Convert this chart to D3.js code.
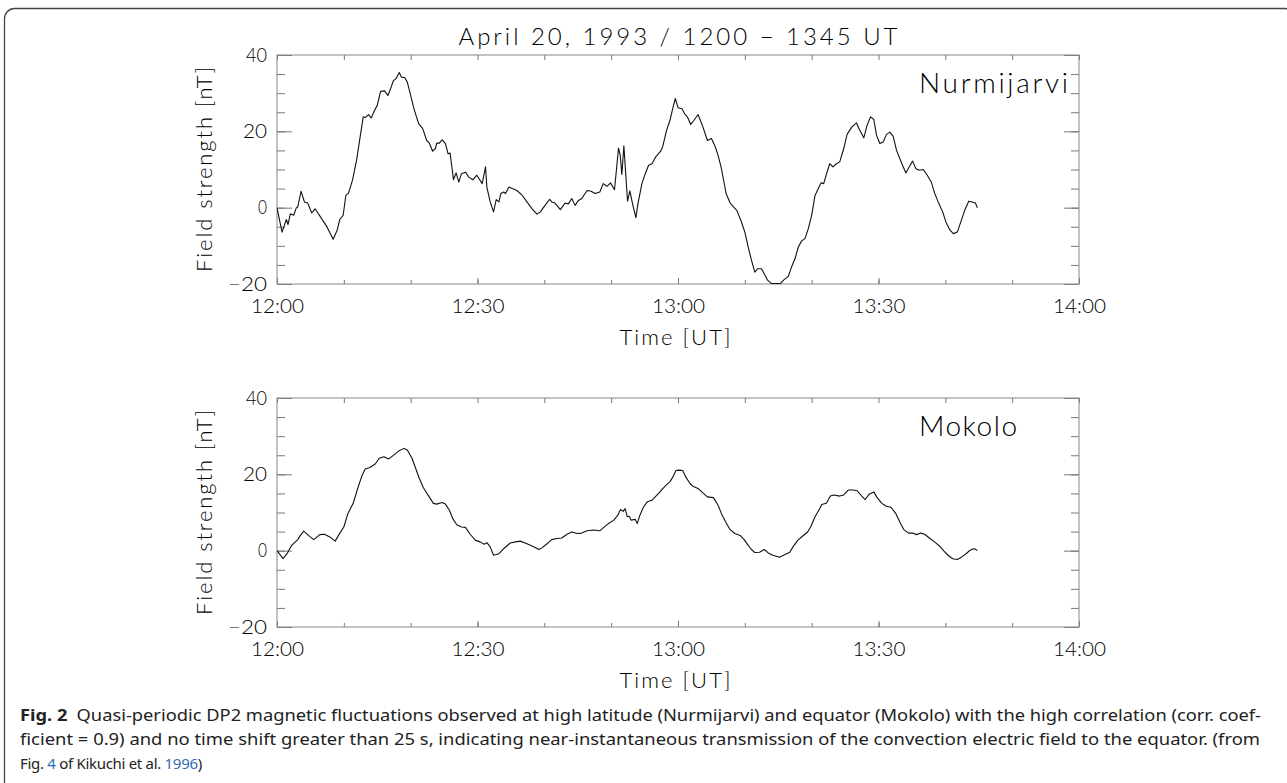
<!DOCTYPE html>
<html>
<head>
<meta charset="utf-8">
<script src="https://cdn.jsdelivr.net/npm/d3@7"></script>
<style>
  body { margin: 0; background: #fff; }
  .plotfont text { font-family: "Lato", "DejaVu Sans", sans-serif; font-weight: 300; fill: #000; }
  .caption { font-family: "Noto Sans", "Open Sans", sans-serif; font-size: 16px; fill: #222; }
</style>
</head>
<body>
<div id="container"></div>
<script>
/* global d3 */

const width = 1287;
const height = 783;

// minutes after 12:00 UT, field strength [nT]
const nurmijarvi = [
  [0,0],[0.75,-6.4],[1.4,-3.1],[1.65,-4.4],[2,-1.6],[2.5,-2],[2.9,0],[3.1,0.2],[3.6,4.3],[4.1,1.5],
  [4.6,1.2],[5.2,-1.4],[5.7,-0.3],[6.5,-2.4],[7.5,-5.1],[8.4,-8.3],[9,-5.9],[9.4,-3.1],[9.9,-2],[10.3,3.2],
  [10.7,3.8],[11.3,7.2],[11.9,12.4],[12.4,18.1],[12.9,23.8],[13.2,23.6],[13.7,24.4],[14.1,23.5],[14.6,25.5],[15,26.8],
  [15.5,30.5],[16.1,30.6],[16.6,29.4],[17,31.2],[17.4,33.2],[17.8,33.8],[18.3,35.4],[18.6,34.2],[19.1,34.1],[19.5,32.9],
  [20,29.4],[20.5,25.9],[20.8,24.2],[21.2,22],[21.8,20.7],[22.4,17.6],[22.8,16.9],[23.3,14.8],[23.7,15.5],[23.9,16.9],
  [24.3,16.9],[24.7,17.8],[25.2,16.8],[25.6,14.1],[25.9,14.3],[26.2,10.2],[26.4,7.3],[26.8,9.1],[27.2,6.7],[27.6,8.9],
  [28.2,9.3],[28.7,8],[29.3,7.3],[29.9,8.5],[30.7,6.3],[31.2,10.7],[31.4,5.4],[31.9,1.5],[32.4,-1.1],[32.8,2.1],
  [33.2,1.5],[33.5,3.7],[33.9,4.1],[34.2,3.7],[34.7,5.4],[35.2,5],[35.9,4.5],[36.7,3.2],[37.4,1.5],[38.2,-0.4],
  [38.9,-1.7],[39.4,-1.1],[40.1,0.6],[40.8,2.2],[41.1,1.5],[41.6,1.2],[42.4,-0.5],[43.1,1.2],[43.6,1],[44.1,2.4],
  [44.6,0.6],[45.1,1.9],[45.6,2.4],[46.4,4.5],[47,4.3],[47.6,3.7],[48.3,4.1],[48.8,6.3],[49.4,5.6],[49.9,6.5],
  [50.5,4.7],[51.1,15.6],[51.35,13.8],[51.6,8.7],[51.9,16.2],[52.45,1.7],[52.8,4.4],[53.2,1],[53.7,-2.6],[54,1],
  [54.6,6.3],[55.1,8.9],[55.6,11.1],[56.1,11.5],[56.7,13.4],[57.4,14.8],[57.7,15.9],[58.3,20.3],[58.8,22.9],[59.2,25.9],
  [59.6,28.6],[60,26.2],[60.6,25.9],[61,24.6],[61.4,23.8],[61.9,21.8],[62.4,22.9],[63,24.4],[63.7,21.3],[64.4,17.6],
  [65,18.1],[65.5,16.3],[66,13.7],[66.5,10.2],[67.2,3.7],[67.8,1.2],[68.3,0.2],[68.8,-0.7],[69.4,-3.3],[70,-6.4],
  [70.5,-10.3],[71,-13.8],[71.5,-16.9],[71.9,-16],[72.5,-16],[72.9,-17.3],[73.4,-19],[74,-19.9],[75.3,-19.9],[75.8,-19],
  [76.5,-18],[77,-15.5],[77.5,-13.4],[78,-10.3],[78.5,-8.7],[79,-8.1],[79.5,-5.5],[80,-2],[80.5,3.2],[81,5],
  [81.4,6.5],[81.8,6.3],[82.2,8.7],[82.7,11.5],[83.2,10.7],[83.7,11.5],[84.2,12],[84.8,15.5],[85.3,19.2],[86,21.1],
  [86.7,22.2],[87.2,20.3],[87.8,18.3],[88.3,21.6],[88.8,23.8],[89.3,23.1],[89.7,19],[90.2,16.8],[90.7,17.2],[91.2,19.2],
  [91.7,19.8],[92.2,18.7],[92.7,15],[93.5,11.5],[94.1,9.1],[94.6,10.7],[95.1,12.2],[95.6,10.2],[96.1,9.8],[96.7,10],
  [97.3,8.5],[97.9,6.7],[98.4,3.8],[99,1.2],[99.6,-1.1],[100.1,-3.8],[100.7,-5.9],[101.2,-6.8],[101.8,-6.4],[102.3,-3.8],
  [102.9,-0.7],[103.5,1.7],[104,1.5],[104.5,1.2],[104.8,0]
];

const mokolo = [
  [0,0],[0.9,-2.1],[1.5,-0.8],[2.2,1.4],[3.1,2.9],[3.5,4],[4,5.1],[4.7,4],[5.5,2.9],[6.4,4.2],
  [7.1,4.3],[7.9,3.6],[8.7,2.5],[9.4,4.6],[10,6.2],[10.6,9.7],[11.4,12.4],[12,15.9],[12.7,19.6],[13.2,21.4],
  [13.9,21.8],[14.7,22.7],[15.3,24.2],[16,24.6],[16.7,24],[17.5,25.1],[18.2,26.1],[19,26.8],[19.5,26.4],[20.2,24.2],
  [20.7,21.8],[21.3,18.9],[21.9,16.5],[22.7,14.3],[23.4,12.4],[23.9,12.2],[24.7,12.6],[25.2,12.2],[25.8,10.6],[26.3,8.4],
  [26.9,6.8],[27.6,6.2],[28.2,6.1],[28.9,4.3],[29.7,2.7],[30.4,2.3],[31,1.7],[31.4,2.1],[31.9,1],[32.4,-1.2],
  [33.2,-0.8],[33.9,0.5],[34.9,2],[35.7,2.3],[36.4,2.5],[37.4,1.8],[38.4,1],[39.2,0.3],[39.7,0.8],[40.4,1.8],
  [41.1,2.9],[41.9,3.2],[42.6,3.3],[43.4,4.3],[44.1,4.9],[44.9,4.5],[45.6,4.6],[46.4,5.2],[47.4,5.4],[48.3,5.2],
  [48.9,6.1],[49.6,7.1],[50.4,8],[51,9.3],[51.4,10.8],[51.8,10.3],[52.1,11],[52.4,8.9],[52.7,9],[53,8],
  [53.6,8.2],[53.9,7.1],[54.3,9.3],[54.8,11.3],[55.4,12.8],[56.1,13.2],[56.7,14.3],[57.3,15.4],[58,16.8],[58.8,18.1],
  [59.2,19.2],[59.7,21],[60.2,21.1],[60.7,21],[61.2,19.2],[61.8,17.6],[62.3,16.8],[63,16.3],[63.8,15],[64.4,14.1],
  [65.3,13.9],[66,11.9],[66.5,9.7],[67.2,7.3],[67.8,5.5],[68.5,4.5],[69.3,4],[69.9,2.9],[70.5,1.4],[71,0.3],
  [71.5,-0.5],[72.2,-0.4],[72.9,0.3],[73.5,-0.6],[74.2,-1.2],[75.2,-1.7],[76,-1],[76.7,-0.5],[77.2,1],[77.9,2.7],
  [78.7,3.9],[79.4,4.9],[79.9,6.4],[80.5,8.9],[81.2,11],[81.5,12.1],[82.2,12.4],[82.8,14.3],[83.3,14.6],[84.2,14.3],
  [84.8,14.6],[85.5,15.9],[86.2,15.9],[86.8,15.7],[87.5,14.3],[88,13.4],[88.6,14.8],[89.3,15.4],[89.8,13.9],[90.5,12.4],
  [91.1,11.7],[91.9,11.3],[92.6,9.7],[93.3,7.1],[93.8,5.5],[94.5,4.6],[95.1,4.6],[95.7,4.2],[96.3,4.6],[96.9,4.3],
  [97.7,3.2],[98.4,2.3],[99.2,1.1],[99.8,-0.1],[100.4,-1.2],[101.1,-2.1],[101.8,-2.3],[102.4,-1.7],[103.1,-0.8],[103.7,0.1],
  [104.2,0.5],[104.5,0.4],[104.8,0]
];

const yMajorTicks = [-20, 0, 20, 40];
const yMinorTicks = d3.range(-20, 41, 5);
const xMajorTicks = [0, 30, 60, 90, 120]; // minutes after 12:00
const xMinorTicks = d3.range(0, 121, 10);
const xTickLabels = ["12:00", "12:30", "13:00", "13:30", "14:00"];

const title = "April 20, 1993 / 1200 \u2212 1345 UT";
const panels = [
  { name: "Nurmijarvi", nameLen: 149, data: nurmijarvi, top: 55 },
  { name: "Mokolo", nameLen: 98, data: mokolo, top: 398 }
];

const plotLeft = 277;
const plotRight = 1079;
const plotH = 229;

//create svg
const svg = d3
  .select("#container")
  .append("svg")
  .attr("width", width)
  .attr("height", height);

// caption box (rounded, runs past bottom/right edge)
svg
  .append("rect")
  .attr("x", 4.5)
  .attr("y", 8.5)
  .attr("width", 1290)
  .attr("height", 800)
  .attr("rx", 10)
  .attr("fill", "none")
  .attr("stroke", "#444")
  .attr("stroke-width", 1.3);

svg
  .append("g")
  .attr("class", "plotfont")
  .append("text")
  .attr("x", (plotLeft + plotRight) / 2)
  .attr("y", 45)
  .attr("text-anchor", "middle")
  .attr("font-size", 24)
  .attr("textLength", 439)
  .attr("lengthAdjust", "spacing")
  .text(title);

const x = d3.scaleLinear([0, 120], [plotLeft, plotRight]);

// width of each y tick label in the figure
const yLabelLen = { "-20": 39, 0: 9, 20: 24, 40: 21 };

panels.forEach((p, i) => {
  const y = d3.scaleLinear([-20, 40], [p.top + plotH, p.top]);
  const g = svg.append("g").attr("class", "plotfont");

  // inward ticks, IDL style
  const addAxis = (axis, tx, ty) => {
    const a = g
      .append("g")
      .attr("transform", `translate(${tx},${ty})`)
      .call(axis)
      .attr("font-family", null)
      .attr("font-size", null);
    a.select(".domain").remove();
    a.selectAll("line").attr("stroke", "#777");
    return a;
  };

  addAxis(d3.axisLeft(y).tickValues(yMinorTicks).tickSize(-8).tickFormat(""), plotLeft, 0);
  addAxis(d3.axisRight(y).tickValues(yMinorTicks).tickSize(-8).tickFormat(""), plotRight, 0);
  addAxis(d3.axisRight(y).tickValues(yMajorTicks).tickSize(-15).tickFormat(""), plotRight, 0);
  const yl = addAxis(
    d3.axisLeft(y).tickValues(yMajorTicks).tickSize(-15).tickPadding(10)
      .tickFormat((d) => (d < 0 ? "\u2212" + Math.abs(d) : d)),
    plotLeft, 0
  );
  yl.selectAll("text")
    .attr("font-size", 19)
    .attr("textLength", (d) => yLabelLen[d])
    .attr("lengthAdjust", "spacingAndGlyphs");

  addAxis(d3.axisBottom(x).tickValues(xMinorTicks).tickSize(-4).tickFormat(""), 0, p.top + plotH);
  addAxis(d3.axisTop(x).tickValues(xMinorTicks).tickSize(-5).tickFormat(""), 0, p.top);
  const xl = addAxis(
    d3.axisBottom(x).tickValues(xMajorTicks).tickSize(-6).tickPadding(16)
      .tickFormat((d, j) => xTickLabels[j]),
    0, p.top + plotH
  );
  xl.selectAll("text")
    .attr("font-size", 19)
    .attr("textLength", 53)
    .attr("lengthAdjust", "spacingAndGlyphs");

  // frame
  g.append("rect")
    .attr("x", plotLeft)
    .attr("y", p.top)
    .attr("width", plotRight - plotLeft)
    .attr("height", plotH)
    .attr("fill", "none")
    .attr("stroke", "#888")
    .attr("stroke-width", 1);

  g.append("clipPath")
    .attr("id", "clip" + i)
    .append("rect")
    .attr("x", plotLeft)
    .attr("y", p.top)
    .attr("width", plotRight - plotLeft)
    .attr("height", plotH);

  const line = d3.line().x((d) => x(d[0])).y((d) => y(d[1]));
  g.append("path")
    .datum(p.data)
    .attr("clip-path", `url(#clip${i})`)
    .attr("d", line)
    .attr("fill", "none")
    .attr("stroke", "#111")
    .attr("stroke-width", 1.1)
    .attr("stroke-linejoin", "round");

  g.append("text")
    .attr("x", 919)
    .attr("y", p.top + 38)
    .attr("font-size", 28)
    .attr("textLength", p.nameLen)
    .attr("lengthAdjust", "spacing")
    .text(p.name);

  g.append("text")
    .attr("transform", `translate(212,${p.top + plotH / 2}) rotate(-90)`)
    .attr("text-anchor", "middle")
    .attr("font-size", 22)
    .attr("textLength", 205)
    .attr("lengthAdjust", "spacing")
    .text("Field strength [nT]");

  g.append("text")
    .attr("x", (plotLeft + plotRight) / 2 - 3)
    .attr("y", p.top + plotH + 61)
    .attr("text-anchor", "middle")
    .attr("font-size", 22)
    .attr("textLength", 111)
    .attr("lengthAdjust", "spacing")
    .text("Time [UT]");
});

// caption
const cap = svg.append("g").attr("class", "caption");
const l1 = cap.append("text").attr("x", 20).attr("y", 721)
  .attr("textLength", 1241).attr("lengthAdjust", "spacingAndGlyphs");
l1.append("tspan").attr("font-weight", "bold").text("Fig. 2");
l1.append("tspan").text("\u2002Quasi-periodic DP2 magnetic fluctuations observed at high latitude (Nurmijarvi) and equator (Mokolo) with the high correlation (corr. coef-");

cap.append("text").attr("x", 20).attr("y", 745)
  .attr("textLength", 1240).attr("lengthAdjust", "spacingAndGlyphs")
  .text("ficient = 0.9) and no time shift greater than 25 s, indicating near-instantaneous transmission of the convection electric field to the equator. (from");

const l3 = cap.append("text").attr("x", 20).attr("y", 769)
  .attr("font-size", 15)
  .attr("letter-spacing", -0.3);
l3.append("tspan").text("Fig. ");
l3.append("tspan").attr("fill", "#2d6db5").text("4");
l3.append("tspan").text(" of Kikuchi et al. ");
l3.append("tspan").attr("fill", "#2d6db5").text("1996");
l3.append("tspan").text(")");
</script>
</body>
</html>
